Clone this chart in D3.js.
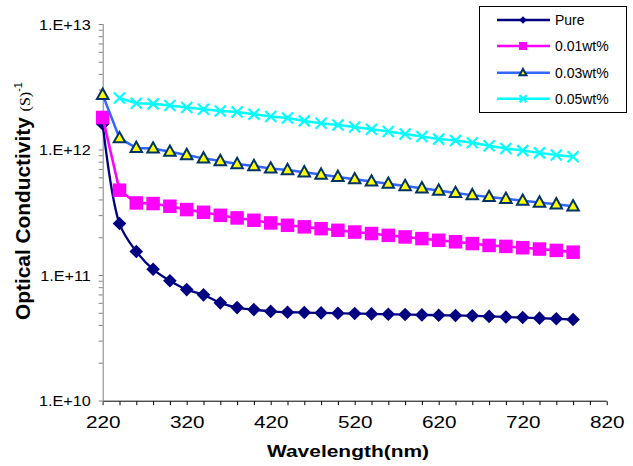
<!DOCTYPE html>
<html>

<head>
  <title>Optical Conductivity</title>
  <style>
    body { margin: 0; background: #fff; }
    text { font-family: "Liberation Sans", Arial, sans-serif; }
  </style>
</head>

<body>
  <svg id="svg"></svg>

  <script src="https://d3js.org/d3.v7.min.js"></script>
  <script>
    // wavelength (nm)
    let wavelengths = [220, 240, 260, 280, 300, 320, 340, 360, 380, 400, 420, 440, 460, 480, 500,
      520, 540, 560, 580, 600, 620, 640, 660, 680, 700, 720, 740, 760, 780];

    let pure = [1.6e12, 2.57e11, 1.54e11, 1.11e11, 9.0e10, 7.65e10, 6.95e10, 6.0e10, 5.5e10, 5.3e10,
      5.13e10, 5.05e10, 5.02e10, 4.99e10, 4.96e10, 4.93e10, 4.9e10, 4.87e10, 4.84e10, 4.81e10,
      4.78e10, 4.76e10, 4.73e10, 4.68e10, 4.63e10, 4.58e10, 4.53e10, 4.48e10, 4.42e10];

    let wt001 = [1.8e12, 4.74e11, 3.75e11, 3.71e11, 3.53e11, 3.32e11, 3.16e11, 2.99e11, 2.85e11, 2.73e11,
      2.6e11, 2.49e11, 2.42e11, 2.34e11, 2.27e11, 2.2e11, 2.14e11, 2.07e11, 2.01e11, 1.95e11,
      1.89e11, 1.84e11, 1.78e11, 1.72e11, 1.69e11, 1.65e11, 1.61e11, 1.57e11, 1.52e11];

    let wt003 = [2.73e12, 1.23e12, 1.03e12, 1.02e12, 9.6e11, 9.04e11, 8.5e11, 8.09e11, 7.66e11, 7.38e11,
      7.07e11, 6.86e11, 6.58e11, 6.31e11, 6.05e11, 5.8e11, 5.57e11, 5.34e11, 5.12e11, 4.91e11,
      4.71e11, 4.51e11, 4.33e11, 4.19e11, 4.05e11, 3.91e11, 3.78e11, 3.66e11, 3.53e11];

    let wt005 = [null, 2.57e12, 2.34e12, 2.31e12, 2.24e12, 2.16e12, 2.09e12, 2.03e12, 1.99e12, 1.91e12,
      1.83e12, 1.78e12, 1.69e12, 1.62e12, 1.57e12, 1.51e12, 1.45e12, 1.39e12, 1.33e12, 1.27e12,
      1.21e12, 1.18e12, 1.13e12, 1.07e12, 1.02e12, 9.8e11, 9.4e11, 9.04e11, 8.75e11];

    let seriesNames = ["Pure", "0.01wt%", "0.03wt%", "0.05wt%"];
    let xTicks = [220, 320, 420, 520, 620, 720, 820];
    let yTicks = [1e10, 1e11, 1e12, 1e13];

    let width = 633, height = 466;
    let margin = { top: 24, left: 102.7, right: 26.3, bottom: 65.5 };
    let w = width - margin.left - margin.right, h = height - margin.top - margin.bottom;

    let svg = d3.select("#svg").attr("width", width).attr("height", height);

    let x = d3.scaleLinear().domain([220, 820]).range([0, w]);
    let y = d3.scaleLog().domain([1e10, 1e13]).range([h, 0]);

    let g = svg.append("g").attr("transform", `translate(${margin.left},${margin.top})`);

    // axes
    let xMinor = d3.range(220, 821, 20);
    let xAxis = g.append("g")
      .attr("transform", `translate(0,${h + 0.7})`)
      .call(d3.axisBottom(x).tickValues(xMinor).tickSize(4)
        .tickFormat(d => xTicks.includes(d) ? d : ""));
    xAxis.select(".domain").attr("stroke", "#000").attr("d", `M0.5,0H${w}`);
    xAxis.selectAll(".tick line").attr("stroke", "#000");
    xAxis.selectAll(".tick text")
      .attr("y", 27).attr("dy", 0)
      .attr("font-size", 17)
      .attr("fill", "#000")
      .attr("transform", "scale(1.22,1)");

    let yAll = [];
    [1e10, 1e11, 1e12].forEach(p => { for (let k = 1; k < 10; k++) yAll.push(p * k); });
    yAll.push(1e13);
    let yAxis = g.append("g")
      .call(d3.axisLeft(y).tickValues(yAll).tickSize(4)
        .tickFormat(d => yTicks.includes(d) ? "1.E+" + Math.round(Math.log10(d)) : ""));
    yAxis.select(".domain").attr("stroke", "#808080").attr("d", `M0.5,0V${h + 4.5}`);
    yAxis.selectAll(".tick line").attr("stroke", "#808080");
    yAxis.selectAll(".tick text")
      .attr("x", -11).attr("dy", "0.36em")
      .attr("font-size", 15)
      .attr("fill", "#000")
      .attr("transform", "scale(1.08,1)");
    svg.selectAll(".tick text").attr("font-family", "Liberation Sans, Arial, sans-serif");

    // axis titles
    svg.append("text")
      .attr("transform", "translate(348,457) scale(1.27,1)")
      .attr("text-anchor", "middle")
      .attr("font-size", 16.5)
      .attr("font-weight", "bold")
      .text("Wavelength(nm)");

    let yl = svg.append("text")
      .attr("transform", "translate(29.5,320) rotate(-90) scale(1.07,1)")
      .attr("font-size", 19.5)
      .attr("font-weight", "bold");
    yl.append("tspan").text("Optical Conductivity ");
    yl.append("tspan").attr("font-family", "Liberation Serif, Times New Roman, serif")
      .attr("font-weight", "normal").attr("font-size", 15).text("(S)");
    yl.append("tspan").attr("font-weight", "normal").attr("font-size", 10)
      .attr("dy", -8).text("-1");

    // markers
    function diamond(sel, r, fill) {
      sel.append("path").attr("d", `M0,${-r}L${r},0L0,${r}L${-r},0Z`).attr("fill", fill);
    }
    function square(sel, s, fill) {
      sel.append("rect").attr("x", -s / 2).attr("y", -s / 2).attr("width", s).attr("height", s).attr("fill", fill);
    }
    function triangle(sel, s, fill, stroke) {
      let hh = s * 0.9;
      sel.append("path").attr("d", `M0,${-hh * 0.6}L${s / 2},${hh * 0.4}L${-s / 2},${hh * 0.4}Z`)
        .attr("fill", fill).attr("stroke", stroke).attr("stroke-width", 2).attr("stroke-linejoin", "miter");
    }
    function cross(sel, s, color) {
      let r = s / 2;
      sel.append("path").attr("d", `M${-r},${-r}L${r},${r}M${-r},${r}L${r},${-r}`)
        .attr("stroke", color).attr("stroke-width", 2.2).attr("fill", "none");
    }

    let series = [
      { name: seriesNames[0], values: pure, line: "#000080", lw: 2.3, curve: d3.curveCatmullRom.alpha(0.5),
        mark: (s, big) => diamond(s, big ? 6.8 : 3.8, "#000080") },
      { name: seriesNames[1], values: wt001, line: "#FF00FF", lw: 2.6, curve: d3.curveLinear,
        mark: (s, big) => square(s, big ? 13.5 : 8, "#FF00FF") },
      { name: seriesNames[2], values: wt003, line: "#3366FF", lw: 2.5, curve: d3.curveLinear,
        mark: (s, big) => triangle(s, big ? 11.5 : 7, "#FFFF00", "#003366") },
      { name: seriesNames[3], values: wt005, line: "#00FFFF", lw: 2.5, curve: d3.curveLinear,
        mark: (s, big) => cross(s, big ? 11 : 7, "#00FFFF") }
    ];

    series.forEach(sr => {
      let pts = wavelengths.map((wl, i) => ({ wl: wl, v: sr.values[i] })).filter(d => d.v != null);
      let line = d3.line().x(d => x(d.wl)).y(d => y(d.v)).curve(sr.curve);
      g.append("path").datum(pts)
        .attr("d", line)
        .attr("fill", "none")
        .attr("stroke", sr.line)
        .attr("stroke-width", sr.lw);
      g.selectAll(null).data(pts).join("g")
        .attr("transform", d => `translate(${x(d.wl)},${y(d.v)})`)
        .each(function () { sr.mark(d3.select(this), true); });
    });

    // legend
    let legend = svg.append("g");
    legend.append("rect")
      .attr("x", 479.5).attr("y", 6.5).attr("width", 147).attr("height", 106)
      .attr("fill", "#fff").attr("stroke", "#000").attr("stroke-width", 1);
    let rowY = [20, 46, 72.7, 98.7];
    series.forEach((sr, i) => {
      let r = legend.append("g").attr("transform", `translate(0,${rowY[i]})`);
      r.append("line").attr("x1", 497).attr("x2", 550).attr("stroke", sr.line).attr("stroke-width", 2.5);
      let m = r.append("g").attr("transform", "translate(523,0)");
      sr.mark(m, false);
      r.append("text").attr("x", 555).attr("y", 5).attr("font-size", 14).text(sr.name);
    });
  </script>
</body>

</html>
